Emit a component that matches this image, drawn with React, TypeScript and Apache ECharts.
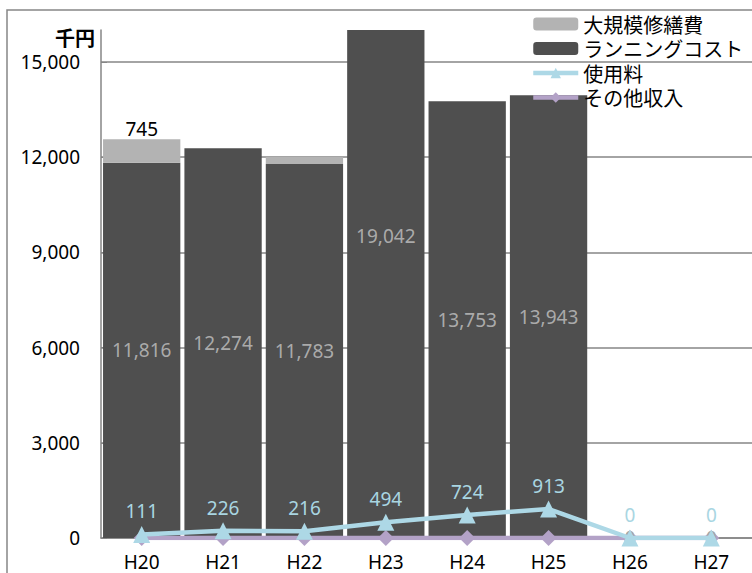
import React, { useEffect, useRef } from "react";
import * as echarts from "echarts";

const categories = ["H20", "H21", "H22", "H23", "H24", "H25", "H26", "H27"];
const repair = [745, null, 217, null, null, null, null, null];
const repairLabelShown = [true, false, false, false, false, false, false, false];
const running = [11816, 12274, 11783, 19042, 13753, 13943, null, null];
const usage = [111, 226, 216, 494, 724, 913, 0, 0];
const other = [0, 0, 0, 0, 0, 0, 0, 0];
const otherLabelShown = [false, false, false, false, false, false, true, true];
const yTicks = { min: 0, max: 16000, interval: 3000 };

const numFont = "'Noto Sans', 'DejaVu Sans', sans-serif";
const jpFont = "'Noto Sans CJK JP', 'Noto Sans', sans-serif";
const fmt = (v: number) => v.toLocaleString("en-US");

export default function App() {
  const ref = useRef<HTMLDivElement>(null);
  useEffect(() => {
    if (!ref.current) return;
    const chart = echarts.init(ref.current, null, { renderer: "svg" });
    chart.setOption({
      animation: false,
      backgroundColor: "#ffffff",
      grid: { left: 101, right: -2, top: 30, bottom: 35, containLabel: false },
      legend: {
        data: ["大規模修繕費", "ランニングコスト", "使用料", "その他収入"],
        orient: "vertical",
        left: 526,
        top: 9,
        itemWidth: 45,
        itemHeight: 13,
        itemGap: 4.5,
        lineStyle: { width: 4.5 },
        textStyle: { fontFamily: jpFont, fontSize: 20, lineHeight: 20, color: "#000" },
      },
      graphic: [
        {
          type: "rect",
          shape: { x: 7, y: 10, width: 800, height: 620 },
          style: { fill: "none", stroke: "#868686", lineWidth: 1.5 },
          silent: true,
          z: -10,
        },
        {
          type: "text",
          left: 55,
          top: 27,
          style: { text: "千円", font: `bold 20px ${jpFont}`, fill: "#000" },
        },
      ],
      xAxis: {
        type: "category",
        data: categories,
        axisLine: { lineStyle: { color: "#868686", width: 1.5 } },
        axisTick: { inside: true, length: 5, lineStyle: { color: "#868686" } },
        axisLabel: { color: "#000", fontFamily: numFont, fontSize: 19, margin: 14 },
      },
      yAxis: {
        type: "value",
        min: yTicks.min,
        max: yTicks.max,
        interval: yTicks.interval,
        axisLine: { show: true, lineStyle: { color: "#868686", width: 1.5 } },
        axisTick: { show: true, inside: true, length: 6, lineStyle: { color: "#868686" } },
        axisLabel: {
          showMaxLabel: false,
          color: "#000",
          fontFamily: numFont,
          fontSize: 19,
          margin: 21,
          formatter: (v: number) => fmt(v),
        },
        splitLine: { show: true, showMaxLine: false, lineStyle: { color: "#868686", width: 1.5 } },
      },
      series: [
        {
          name: "ランニングコスト",
          type: "bar",
          stack: "cost",
          data: running,
          barCategoryGap: "5%",
          itemStyle: { color: "#4f4f4f" },
          clip: true,
          z: 2,
        },
        {
          name: "大規模修繕費",
          type: "bar",
          stack: "cost",
          data: repair,
          barCategoryGap: "5%",
          itemStyle: { color: "#b3b3b3" },
          clip: true,
          z: 2,
          label: {
            show: true,
            position: "top",
            distance: 1,
            color: "#000",
            fontFamily: numFont,
            fontSize: 19,
            formatter: (p: any) => (repairLabelShown[p.dataIndex] ? fmt(p.value) : ""),
          },
        },
        {
          name: "runningLabels",
          type: "scatter",
          data: running.map((v) => (v == null ? null : v / 2)),
          symbolSize: 0,
          clip: false,
          z: 3,
          silent: true,
          label: {
            show: true,
            position: "inside",
            color: "#c4c4c4",
            fontFamily: numFont,
            fontSize: 19,
            formatter: (p: any) => fmt(running[p.dataIndex] as number),
          },
        },
        {
          name: "その他収入",
          type: "line",
          data: other,
          symbol: "diamond",
          symbolSize: 16,
          lineStyle: { color: "#b3a2c7", width: 4.5 },
          itemStyle: { color: "#b3a2c7" },
          z: 4,
          label: {
            show: true,
            position: "inside",
            color: "#a6a6a6",
            fontFamily: numFont,
            fontSize: 19,
            formatter: (p: any) => (otherLabelShown[p.dataIndex] ? String(p.value) : ""),
          },
        },
        {
          name: "使用料",
          type: "line",
          data: usage,
          symbol: "triangle",
          symbolSize: 17,
          lineStyle: { color: "#add8e6", width: 4.5 },
          itemStyle: { color: "#add8e6" },
          z: 5,
          label: {
            show: true,
            position: "top",
            distance: 5,
            color: "#a9d6e2",
            fontFamily: numFont,
            fontSize: 19,
            formatter: (p: any) => String(p.value),
          },
        },
      ],
    });
    return () => chart.dispose();
  }, []);
  return (
    <div
      ref={ref}
      style={{ position: "absolute", left: 0, top: 0, width: 752, height: 573 }}
    />
  );
}
